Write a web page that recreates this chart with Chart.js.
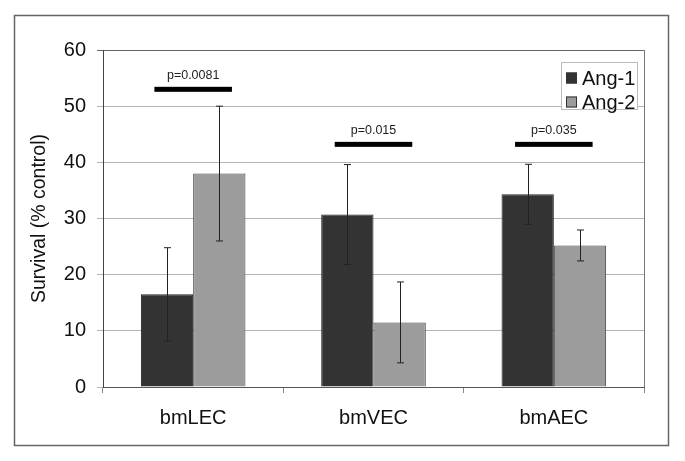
<!DOCTYPE html>
<html>
<head>
<meta charset="utf-8">
<script src="https://cdn.jsdelivr.net/npm/chart.js@4.4.1/dist/chart.umd.min.js"></script>
<style>
html, body { margin: 0; padding: 0; background: #fff; }
#wrap { width: 685px; height: 461px; }
</style>
</head>
<body>
<div id="wrap"><canvas id="survival"></canvas></div>
<script>
const categories = ['bmLEC', 'bmVEC', 'bmAEC'];
const seriesNames = ['Ang-1', 'Ang-2'];
const ang1 = [16.5, 30.7, 34.3];
const ang1Err = [8.3, 8.9, 5.35];
const ang2 = [38.0, 11.5, 25.2];
const ang2Err = [12.0, 7.2, 2.75];
const pLabels = ['p=0.0081', 'p=0.015', 'p=0.035'];
const pLevels = [53.0, 43.2, 43.2];

const FONT = "'Liberation Sans', Arial, sans-serif";
const DARK = '#333333';
const LIGHT = '#9c9c9c';
const errors = [ang1Err, ang2Err];

// white page + grey frame round the whole figure
const framePlugin = {
    id: 'frame',
    beforeDraw(chart) {
        const ctx = chart.ctx;
        ctx.save();
        ctx.fillStyle = '#fff';
        ctx.fillRect(0, 0, chart.width, chart.height);
        ctx.strokeStyle = '#666';
        ctx.lineWidth = 1.5;
        ctx.strokeRect(14.5, 15.5, chart.width - 31, chart.height - 31);
        ctx.restore();
    },
    afterDraw(chart) {
        const {ctx, chartArea} = chart;
        ctx.save();
        ctx.strokeStyle = '#777';
        ctx.lineWidth = 1;
        ctx.beginPath();
        ctx.moveTo(chartArea.right + 0.5, chartArea.top);
        ctx.lineTo(chartArea.right + 0.5, chartArea.bottom);
        ctx.stroke();
        ctx.restore();
    }
};

const errorBarPlugin = {
    id: 'errorBars',
    afterDatasetsDraw(chart) {
        const ctx = chart.ctx;
        const y = chart.scales.y;
        ctx.save();
        ctx.strokeStyle = '#222';
        ctx.lineWidth = 1;
        chart.data.datasets.forEach((ds, i) => {
            chart.getDatasetMeta(i).data.forEach((bar, j) => {
                const v = ds.data[j], e = errors[i][j];
                const top = y.getPixelForValue(v + e);
                const bot = y.getPixelForValue(v - e);
                const x = Math.round(bar.x) + 0.5;
                ctx.beginPath();
                ctx.moveTo(x, top);
                ctx.lineTo(x, bot);
                ctx.moveTo(x - 3.5, top);
                ctx.lineTo(x + 3.5, top);
                ctx.moveTo(x - 3.5, bot);
                ctx.lineTo(x + 3.5, bot);
                ctx.stroke();
            });
        });
        ctx.restore();
    }
};

const pValuePlugin = {
    id: 'pValues',
    afterDatasetsDraw(chart) {
        const ctx = chart.ctx;
        const x = chart.scales.x, y = chart.scales.y;
        const half = x.width / categories.length * 0.215;
        ctx.save();
        ctx.font = '12.5px ' + FONT;
        ctx.textAlign = 'center';
        ctx.textBaseline = 'middle';
        categories.forEach((c, j) => {
            const cx = x.getPixelForValue(j);
            const py = y.getPixelForValue(pLevels[j]);
            ctx.fillStyle = '#000';
            ctx.fillRect(cx - half, py - 2.5, half * 2, 5);
            ctx.fillStyle = '#222';
            ctx.fillText(pLabels[j], cx, py - 14);
        });
        ctx.restore();
    }
};

const legendPlugin = {
    id: 'boxLegend',
    afterDraw(chart) {
        const {ctx, chartArea} = chart;
        const w = 76, h = 47;
        const left = chartArea.right - 7 - w;
        const top = chartArea.top + 12;
        ctx.save();
        ctx.fillStyle = '#fff';
        ctx.fillRect(left, top, w, h);
        ctx.strokeStyle = '#bbb';
        ctx.lineWidth = 1;
        ctx.strokeRect(left + 0.5, top + 0.5, w, h);
        ctx.font = '20px ' + FONT;
        ctx.textBaseline = 'middle';
        chart.data.datasets.forEach((ds, i) => {
            const cy = top + 16 + i * 24;
            ctx.fillStyle = ds.backgroundColor;
            ctx.fillRect(left + 5, cy - 5.5, 11, 11);
            ctx.strokeStyle = '#333';
            ctx.strokeRect(left + 5.5, cy - 5, 10, 10);
            ctx.fillStyle = '#111';
            ctx.fillText(ds.label, left + 21, cy + 1);
        });
        ctx.restore();
    }
};

new Chart(document.getElementById('survival'), {
    type: 'bar',
    data: {
        labels: categories,
        datasets: [
            {
                label: seriesNames[0],
                data: ang1,
                backgroundColor: DARK,
                borderColor: '#222',
                borderWidth: 1,
                categoryPercentage: 0.58,
                barPercentage: 1.0
            },
            {
                label: seriesNames[1],
                data: ang2,
                backgroundColor: LIGHT,
                borderColor: '#444',
                borderWidth: 1,
                categoryPercentage: 0.58,
                barPercentage: 1.0
            }
        ]
    },
    options: {
        responsive: true,
        maintainAspectRatio: false,
        animation: false,
        layout: { padding: { left: 0, top: 50, right: 41, bottom: 0 } },
        plugins: {
            legend: { display: false },
            tooltip: { enabled: false }
        },
        scales: {
            x: {
                afterFit(scale) { scale.height = 74; },
                grid: {
                    display: true,
                    drawOnChartArea: false,
                    drawTicks: true,
                    tickLength: 6,
                    color: '#888'
                },
                border: { color: '#555', width: 1 },
                ticks: {
                    color: '#111',
                    padding: 13,
                    font: { family: FONT, size: 20 }
                }
            },
            y: {
                min: 0,
                max: 60,
                afterFit(scale) { scale.width = 103; },
                grid: {
                    color: (c) => c.tick && c.tick.value === 60 ? '#666' : '#b4b4b4',
                    tickLength: 6
                },
                border: { color: '#444', width: 1 },
                ticks: {
                    stepSize: 10,
                    color: '#111',
                    padding: 11,
                    font: { family: FONT, size: 20 }
                },
                title: {
                    display: true,
                    text: 'Survival (% control)',
                    color: '#111',
                    font: { family: FONT, size: 19.5 },
                    padding: { top: 28, bottom: 0 }
                }
            }
        }
    },
    plugins: [framePlugin, errorBarPlugin, pValuePlugin, legendPlugin]
});
</script>
</body>
</html>
